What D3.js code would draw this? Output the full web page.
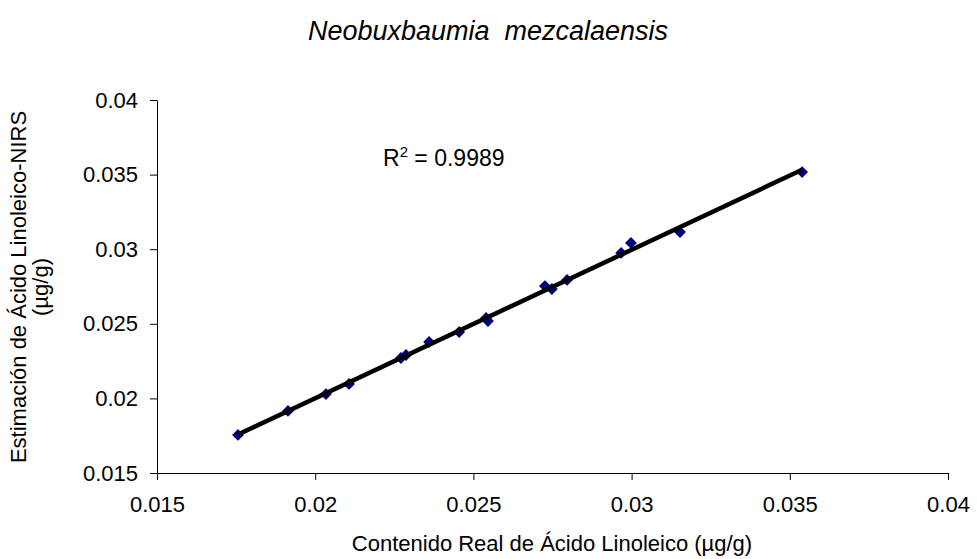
<!DOCTYPE html>
<html><head><meta charset="utf-8">
<script src="https://cdn.jsdelivr.net/npm/d3@7"></script>
<style>body{margin:0;background:#fff}svg{display:block}text{font-family:"Liberation Sans",Arial,sans-serif;fill:#000}</style>
</head><body><div id="chart"></div>
<script>
const realValues = [0.01756,0.01914,0.02034,0.02107,0.02271,0.02287,0.0236,0.02455,0.0254,0.02546,0.02726,0.02748,0.02796,0.02967,0.02998,0.03153,0.03539];
const nirsValues = [0.01755,0.01916,0.02029,0.02097,0.02271,0.02291,0.02378,0.02445,0.02539,0.02519,0.02753,0.02733,0.02794,0.02975,0.03042,0.03115,0.03517];
const xTicks = [0.015,0.02,0.025,0.03,0.035,0.04];
const yTicks = [0.015,0.02,0.025,0.03,0.035,0.04];
const titleText = "Neobuxbaumia  mezcalaensis";
const xTitle = "Contenido Real de Ácido Linoleico (µg/g)";
const yTitle1 = "Estimación de Ácido Linoleico-NIRS";
const yTitle2 = "(µg/g)";
const r2Text = "0.9989";

const W=977,H=559;
const svg=d3.select("#chart").append("svg").attr("width",W).attr("height",H);
const x=d3.scaleLinear().domain([0.015,0.04]).range([157,948]);
const y=d3.scaleLinear().domain([0.015,0.04]).range([473,100]);

const fmt=d=>String(+d.toFixed(3));
svg.append("g").attr("transform","translate(0,473)")
  .call(d3.axisBottom(x).tickValues(xTicks).tickFormat(fmt).tickSize(7).tickSizeOuter(0))
  .call(g=>{g.selectAll("text").style("font-size","22px").attr("y",39).attr("dy",0);g.selectAll("path,line").attr("stroke","#000");});
svg.append("g").attr("transform","translate(157,0)")
  .call(d3.axisLeft(y).tickValues(yTicks).tickFormat(fmt).tickSize(7).tickSizeOuter(0))
  .call(g=>{g.selectAll("text").style("font-size","22px").attr("x",-19);g.selectAll("path,line").attr("stroke","#000");});
svg.selectAll(".domain").attr("stroke-width",1);

// regression
const n=realValues.length, mx=d3.mean(realValues), my=d3.mean(nirsValues);
let sxy=0,sxx=0; for(let i=0;i<n;i++){sxy+=(realValues[i]-mx)*(nirsValues[i]-my);sxx+=(realValues[i]-mx)**2;}
const b=sxy/sxx, a=my-b*mx;
const x0=d3.min(realValues), x1=d3.max(realValues);

const sym=d3.symbol().type(d3.symbolSquare).size(70);
svg.append("g").selectAll("path").data(realValues).join("path")
  .attr("d",sym).attr("fill","#000080")
  .attr("transform",(d,i)=>`translate(${x(d)},${y(nirsValues[i])}) rotate(45)`);
svg.append("line").attr("x1",x(x0)).attr("y1",y(a+b*x0)).attr("x2",x(x1)).attr("y2",y(a+b*x1))
  .attr("stroke","#000").attr("stroke-width",4.5);

svg.append("text").attr("x",488).attr("y",40).attr("text-anchor","middle").style("font-size","27px").style("font-style","italic").attr("xml:space","preserve").text(titleText);
svg.append("text").attr("x",552).attr("y",551).attr("text-anchor","middle").style("font-size","22px").text(xTitle);
svg.append("text").attr("transform","translate(26,287) rotate(-90)").attr("text-anchor","middle").style("font-size","22px").text(yTitle1);
svg.append("text").attr("transform","translate(48,287) rotate(-90)").attr("text-anchor","middle").style("font-size","22px").text(yTitle2);
const rt=svg.append("text").attr("x",383).attr("y",166).style("font-size","23px");
rt.append("tspan").text("R");
rt.append("tspan").attr("dy",-9).style("font-size","15px").text("2");
rt.append("tspan").attr("dy",9).text(" = "+r2Text);
</script></body></html>
